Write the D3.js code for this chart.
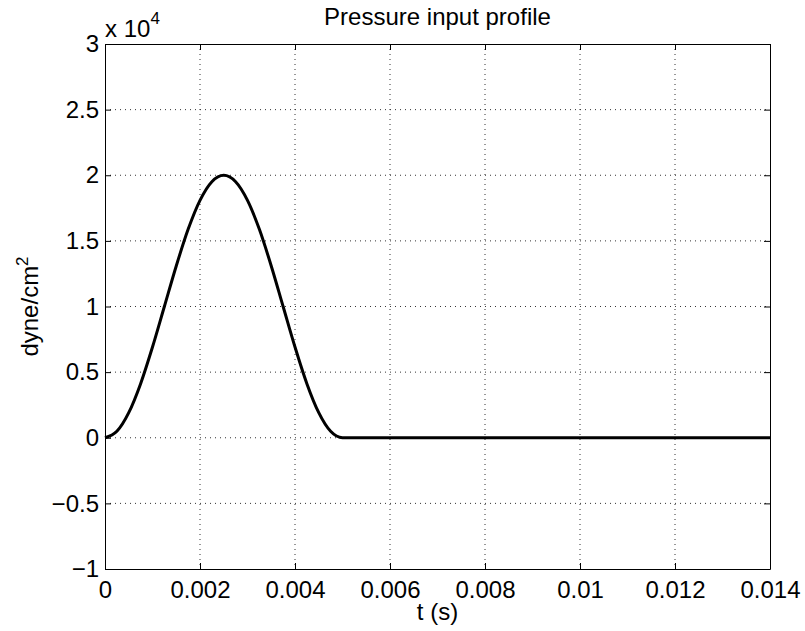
<!DOCTYPE html>
<html>
<head>
<meta charset="utf-8">
<script src="https://cdn.jsdelivr.net/npm/d3@7"></script>
<style>
  body { margin: 0; background: #fff; }
  svg { display: block; font-family: "Liberation Sans", Arial, sans-serif; }
</style>
</head>
<body>
<svg id="chart" width="805" height="631"></svg>
<script>
// pressure pulse (dyne/cm^2 vs seconds)
const times = [0, 0.00025, 0.0005, 0.00075, 0.001, 0.00125, 0.0015, 0.00175, 0.002, 0.00225,
  0.0025, 0.00275, 0.003, 0.00325, 0.0035, 0.00375, 0.004, 0.00425, 0.0045, 0.00475, 0.005, 0.014];
const pressure = [0, 490, 1910, 4120, 6910, 10000, 13090, 15880, 18090, 19510,
  20000, 19510, 18090, 15880, 13090, 10000, 6910, 4120, 1910, 490, 0, 0];

const xTicks = [0, 0.002, 0.004, 0.006, 0.008, 0.01, 0.012, 0.014];
const xTickLabels = ["0", "0.002", "0.004", "0.006", "0.008", "0.01", "0.012", "0.014"];
const yTicks = [-1, -0.5, 0, 0.5, 1, 1.5, 2, 2.5, 3]; // x 10^4
const yTickLabels = ["\u22121", "\u22120.5", "0", "0.5", "1", "1.5", "2", "2.5", "3"];

const W = 805, H = 631;
const m = { left: 105, right: 35, top: 44, bottom: 62 };
const iw = W - m.left - m.right, ih = H - m.top - m.bottom;
const fs = 24;

const svg = d3.select("#chart");
const x = d3.scaleLinear().domain([0, 0.014]).range([0, iw]);
const y = d3.scaleLinear().domain([-1, 3]).range([ih, 0]);

const g = svg.append("g").attr("transform", `translate(${m.left},${m.top})`);

// dotted grid
g.append("g").selectAll("line").data(xTicks.slice(1, -1)).join("line")
  .attr("x1", d => x(d)).attr("x2", d => x(d)).attr("y1", 0).attr("y2", ih)
  .attr("stroke", "#333").attr("stroke-width", 1).attr("stroke-dasharray", "1 4");
g.append("g").selectAll("line").data(yTicks.slice(1, -1)).join("line")
  .attr("y1", d => y(d)).attr("y2", d => y(d)).attr("x1", 0).attr("x2", iw)
  .attr("stroke", "#333").attr("stroke-width", 1).attr("stroke-dasharray", "1 4");

// box with inward ticks on all four sides
g.append("g").attr("transform", `translate(0,${ih})`)
  .call(d3.axisBottom(x).tickValues(xTicks).tickSizeInner(-6).tickSizeOuter(0)
    .tickPadding(12).tickFormat((d, i) => xTickLabels[i]));
g.append("g").call(d3.axisTop(x).tickValues(xTicks).tickSizeInner(-6).tickSizeOuter(0).tickFormat(""));
g.append("g")
  .call(d3.axisLeft(y).tickValues(yTicks).tickSizeInner(-6).tickSizeOuter(0)
    .tickPadding(6).tickFormat((d, i) => yTickLabels[i]));
g.append("g").attr("transform", `translate(${iw},0)`)
  .call(d3.axisRight(y).tickValues(yTicks).tickSizeInner(-6).tickSizeOuter(0).tickFormat(""));

g.selectAll(".domain").attr("stroke", "#000").attr("stroke-width", 1);
g.selectAll(".tick line").attr("stroke", "#000");
g.selectAll(".tick text").attr("font-size", fs).attr("fill", "#000")
  .attr("font-family", "'Liberation Sans', Arial, sans-serif");

// the pulse
const line = d3.line().x((d, i) => x(times[i])).y(d => y(d / 1e4)).curve(d3.curveMonotoneX);
g.append("path").datum(pressure).attr("d", line)
  .attr("fill", "none").attr("stroke", "#000").attr("stroke-width", 3)
  .attr("stroke-linejoin", "round");

// exponent marker
const ex = svg.append("text").attr("x", m.left).attr("y", 37).attr("font-size", fs);
ex.append("tspan").text("x 10");
ex.append("tspan").attr("dy", -13).attr("font-size", 17).text("4");

// title and axis labels
svg.append("text").attr("x", m.left + iw / 2).attr("y", 25).attr("text-anchor", "middle")
  .attr("font-size", fs).text("Pressure input profile");
svg.append("text").attr("x", m.left + iw / 2).attr("y", 620).attr("text-anchor", "middle")
  .attr("font-size", fs).text("t (s)");
const yl = svg.append("text").attr("transform", `translate(38,${m.top + ih / 2}) rotate(-90)`)
  .attr("text-anchor", "middle").attr("font-size", fs);
yl.append("tspan").text("dyne/cm");
yl.append("tspan").attr("dy", -10).attr("font-size", 17).text("2");
</script>
</body>
</html>
